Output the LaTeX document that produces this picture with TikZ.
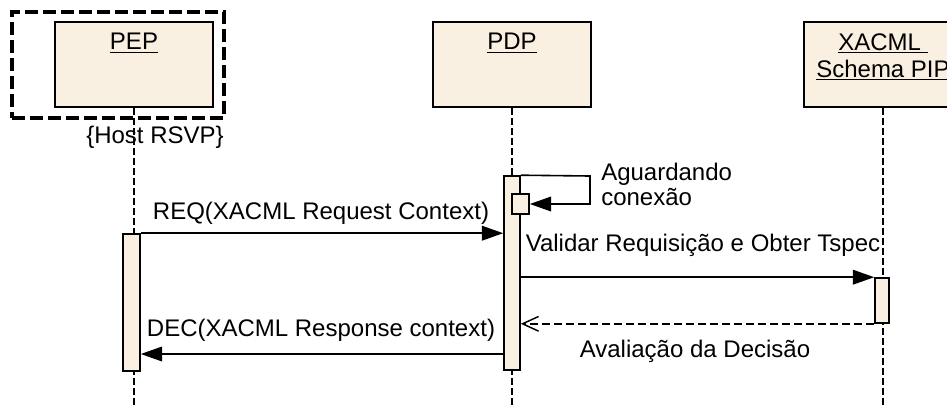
\documentclass[tikz,border=0pt]{standalone}
\usepackage{fontspec}
\setmainfont{Liberation Sans}
\usetikzlibrary{arrows.meta,fit}
\definecolor{boxfill}{RGB}{250,240,226}
\begin{document}
\begin{tikzpicture}[x=0.75pt,y=-0.75pt,
  every node/.style={font=\fontsize{18}{19}\selectfont},
  objbox/.style={draw, fill=boxfill, line width=1.3pt, inner sep=0pt},
  actbar/.style={draw, fill=boxfill, line width=1.2pt, inner sep=0pt},
  life/.style={line width=1.1pt, dash pattern=on 5pt off 2.5pt},
  msg/.style={line width=1.2pt, -{Triangle[length=16pt,width=11pt]}},
  ret/.style={line width=1.1pt, dash pattern=on 6pt off 3pt, -{Straight Barb[length=12pt,width=11pt,line width=1.1pt]}},
  lbl/.style={inner sep=0pt},
  frame/.style={line width=3pt, dash pattern=on 10pt off 3.5pt}]
\useasboundingbox (0,0) rectangle (947,405);
\clip (0,0) rectangle (947,405);
\fill[white] (0,0) rectangle (947,405);

% objects
\node[objbox, fit={(55,22) (213,107)}] (pep) {};
\node[objbox, fit={(433,22) (591,107)}] (pdp) {};
\node[objbox, fit={(804,22) (962,107)}] (pip) {};
\node[lbl] (peplbl) at (134,43) {\underline{PEP}};
\node[lbl] (pdplbl) at (512,43) {\underline{PDP}};
\node[lbl, align=center, font=\fontsize{18}{20.25}\selectfont] (piplbl) at (883,57) {\underline{XACML\ }\\\underline{Schema PIP}};

% host frame
\node[frame, draw, fit={(12,12) (224,118)}, inner sep=0pt] (host) {};
\node[lbl] (hostlbl) at (155,137) {\{Host RSVP\}};

% lifelines
\coordinate (pepend) at (134,405);
\coordinate (pdpend) at (512,405);
\coordinate (pipend) at (883,405);
\draw[life] (pep.south) -- (pepend);
\draw[life] (pdp.south) -- (pdpend);
\draw[life] (pip.south) -- (pipend);

% activation bars
\node[actbar, fit={(123,234) (140,371)}] (pepbar) {};
\node[actbar, fit={(504,176) (520,370)}] (pdpbar) {};
\node[actbar, fit={(512,194) (529,214)}] (pdpsmall) {};
\node[actbar, fit={(875,278) (889,323)}] (pipbar) {};

% self message
\coordinate (s1) at (590,176);
\coordinate (s2) at (590,204);
\draw[msg] (pdpbar.north east) -- (s1) -- (s2) -- (pdpsmall.east);
\node[lbl, align=left, anchor=west, font=\fontsize{18}{18.8}\selectfont] (waitlbl) at (601,184) {Aguardando\\conexão};

% messages
\draw[msg] (pepbar.north east) -- (pepbar.north east -| pdpbar.west);
\node[lbl] (reqlbl) at (321,213) {REQ(XACML Request Context)};

\draw[msg] (pdpbar.east |- pipbar.north) -- (pipbar.north west);
\node[lbl] (vallbl) at (703,245) {Validar Requisição e Obter Tspec};

\draw[ret] (pipbar.south west) -- (pipbar.south west -| pdpbar.east);
\node[lbl] (avlbl) at (695,351) {Avaliação da Decisão};

\coordinate (dec) at (504,354);
\draw[msg] (dec) -- (dec -| pepbar.east);
\node[lbl] (declbl) at (321,330) {DEC(XACML Response context)};
\end{tikzpicture}
\end{document}
